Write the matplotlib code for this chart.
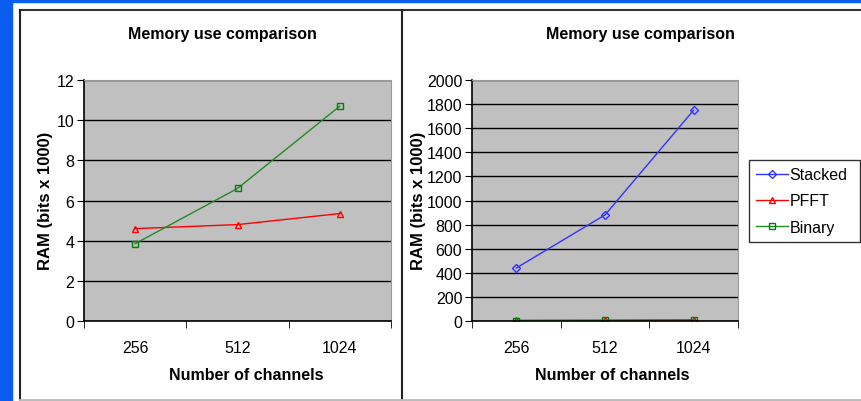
import matplotlib.pyplot as plt
from matplotlib.lines import Line2D
from matplotlib.patches import Rectangle

plt.rcParams['font.family'] = ['Liberation Sans', 'DejaVu Sans']

# data
channels = ['256', '512', '1024']
stacked = [440, 880, 1750]
pffft = [4.6, 4.8, 5.35]
binary = [3.85, 6.6, 10.7]

W, H = 861, 402
fig = plt.figure(figsize=(W / 100, H / 100), dpi=100)
fig.patch.set_facecolor('white')

def px(x, y):
    # pixel coords (top-left origin) -> figure fraction
    return x / W, 1 - y / H

# blue slide background strips
fig.add_artist(Rectangle((0, 0), 12 / W, 1, transform=fig.transFigure, color='#0a5cf0', zorder=0))
fig.add_artist(Rectangle((0, 1 - 3 / H), 1, 3 / H, transform=fig.transFigure, color='#0a5cf0', zorder=0))

# panel borders
def fline(x0, y0, x1, y1, c='black', lw=1.5):
    a, b = px(x0, y0)
    cc, d = px(x1, y1)
    fig.add_artist(Line2D([a, cc], [b, d], transform=fig.transFigure, color=c, lw=lw))

fline(20, 11, 861, 11, c='#333333')
fline(20, 11, 20, 402, c='#222222')
fline(402, 11, 402, 402, c='#222222')
fline(20, 401, 861, 401, c='#bbbbbb', lw=2)

x = [0, 1, 2]

def setup(ax, ymax, step):
    ax.set_facecolor('#c0c0c0')
    ax.set_xlim(-0.5, 2.5)
    ax.set_ylim(0, ymax)
    ax.set_yticks(range(0, ymax + 1, step))
    ax.grid(axis='y', color='black', lw=1)
    ax.set_axisbelow(True)
    ax.set_xticks(x)
    ax.set_xticklabels(channels)
    ax.set_xticks([-0.5, 0.5, 1.5, 2.5], minor=True)
    ax.tick_params(axis='x', which='major', length=0, pad=14, labelsize=11.5)
    ax.tick_params(axis='x', which='minor', length=5, color='black')
    ax.tick_params(axis='y', length=5, pad=2, labelsize=11.5)
    for s in ['top', 'right']:
        ax.spines[s].set_color('#9a9a9a')
    for s in ['left', 'bottom']:
        ax.spines[s].set_color('black')
        ax.spines[s].set_linewidth(1.2)

mk = dict(markerfacecolor='none', lw=1)

ax1 = fig.add_axes([84 / W, 1 - 322 / H, 307 / W, 241 / H])
setup(ax1, 12, 2)
ax1.plot(x, pffft, color='red', marker='^', markersize=5, markeredgecolor='red', **mk)
ax1.plot(x, binary, color='#228b22', marker='s', markersize=5, markeredgecolor='green', **mk)

ax2 = fig.add_axes([472 / W, 1 - 322 / H, 266 / W, 241 / H])
setup(ax2, 2000, 200)
l1, = ax2.plot(x, stacked, color='#3333ff', marker='D', markersize=4, markeredgecolor='#3333ff', label='Stacked', **mk)
l2, = ax2.plot(x, pffft, color='red', marker='^', markersize=5, markeredgecolor='red', label='PFFT', **mk)
l3, = ax2.plot(x, binary, color='#228b22', marker='s', markersize=5, markeredgecolor='green', label='Binary', **mk)

for cx, cy in [(222, 35), (640, 35)]:
    fig.text(*px(cx, cy), 'Memory use comparison', ha='center', va='center',
             fontsize=11.5, fontweight='bold')
for cx in [246, 612]:
    fig.text(*px(cx, 376), 'Number of channels', ha='center', va='center',
             fontsize=11.5, fontweight='bold')
for cx in [46, 418]:
    fig.text(*px(cx, 201), 'RAM (bits x 1000)', ha='center', va='center',
             rotation=90, fontsize=12, fontweight='bold')

lx0, ly0 = px(749, 241)
leg = fig.legend(handles=[l1, l2, l3], loc='upper left', mode='expand',
                 bbox_to_anchor=(lx0, ly0, 111 / W, 80 / H), bbox_transform=fig.transFigure,
                 fontsize=11.5, frameon=True, fancybox=False, borderpad=0.45,
                 handlelength=2.0, handletextpad=0.1, labelspacing=0.7,
                 borderaxespad=0)
leg.get_frame().set_edgecolor('black')
leg.get_frame().set_linewidth(1)

fig.savefig('out.png', dpi=100)
